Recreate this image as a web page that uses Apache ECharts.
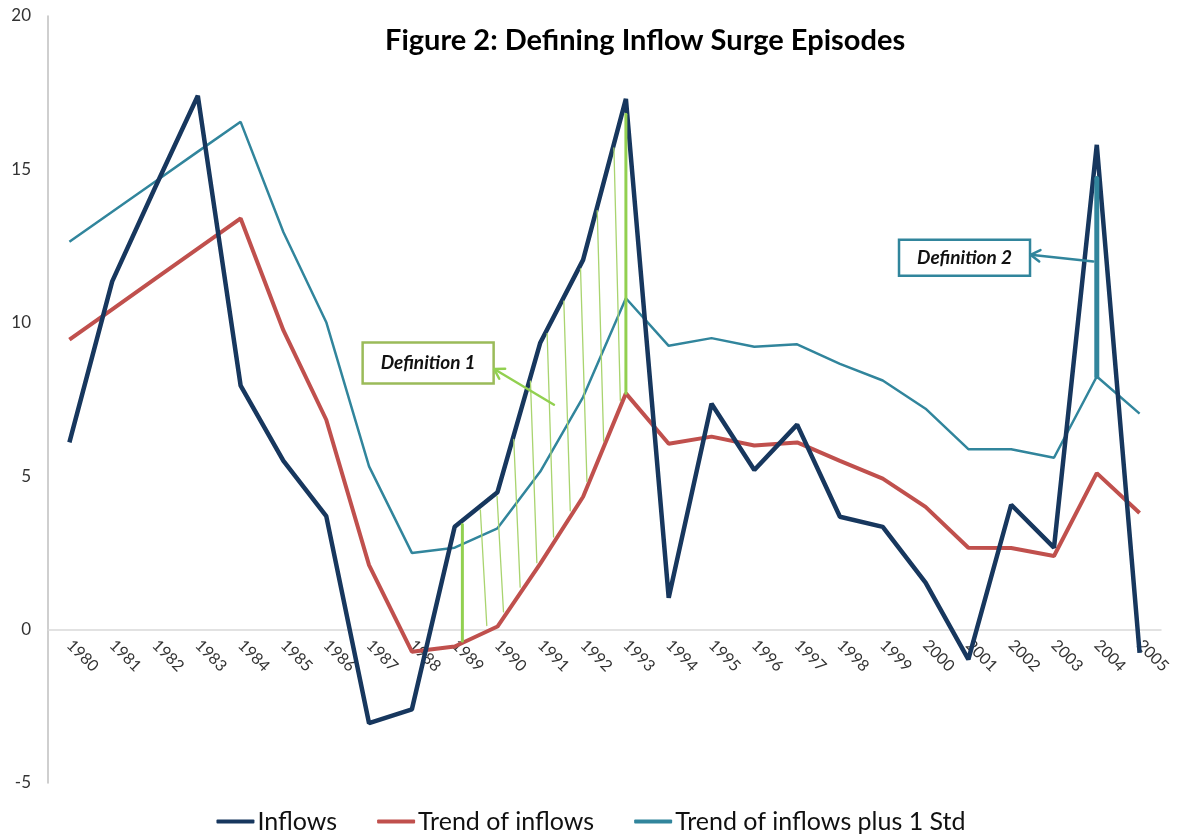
<!DOCTYPE html>
<html>
<head>
<meta charset="utf-8">
<title>Figure 2: Defining Inflow Surge Episodes</title>
<script src="https://cdn.jsdelivr.net/npm/echarts@6/dist/echarts.min.js"></script>
<style>
  html, body { margin: 0; padding: 0; background: #fff; }
  #chart { width: 1182px; height: 839px; }
</style>
</head>
<body>
<div id="chart"></div>
<script>
// data
const years = ['1980', '1981', '1982', '1983', '1984', '1985', '1986', '1987', '1988', '1989',
  '1990', '1991', '1992', '1993', '1994', '1995', '1996', '1997', '1998', '1999',
  '2000', '2001', '2002', '2003', '2004', '2005'];
const inflows = [6.1, 11.35, 14.4, 17.4, 7.95, 5.5, 3.7, -3.05, -2.6, 3.35,
  4.48, 9.35, 12.05, 17.3, 1.04, 7.36, 5.2, 6.68, 3.68, 3.35,
  1.53, -0.97, 4.07, 2.67, 15.8, -0.76];
const trend = [9.45, 10.44, 11.43, 12.42, 13.4, 9.75, 6.84, 2.1, -0.72, -0.55,
  0.1, 2.15, 4.33, 7.7, 6.06, 6.29, 6.0, 6.1, 5.5, 4.92,
  4.0, 2.67, 2.66, 2.4, 5.1, 3.8];
const trendPlusStd = [12.64, 13.62, 14.6, 15.58, 16.55, 12.95, 10.02, 5.32, 2.5, 2.67,
  3.3, 5.15, 7.58, 10.8, 9.25, 9.5, 9.22, 9.3, 8.66, 8.12,
  7.2, 5.88, 5.88, 5.6, 8.25, 7.04];

// y axis range
const yMin = -5;
const yMax = 20;
const yStep = 5;

const FONT = 'Lato, "Open Sans", sans-serif';
const NAVY = '#17375E';
const RED = '#C0504D';
const TEAL = '#31859C';
const GREEN = '#92D050';
const GREEN_BOX = '#9BBB59';

const chart = echarts.init(document.getElementById('chart'));

chart.setOption({
  animation: false,
  backgroundColor: '#fff',
  title: {
    text: 'Figure 2: Defining Inflow Surge Episodes',
    left: 380,
    top: 21,
    textStyle: { fontFamily: FONT, fontWeight: 'bold', fontSize: 29, color: '#000' }
  },
  grid: { left: 48, right: 21, top: 16, bottom: 56 },
  legend: {
    bottom: 0,
    left: 'center',
    icon: 'roundRect',
    itemWidth: 38,
    itemHeight: 4,
    itemGap: 40,
    textStyle: { fontFamily: FONT, fontSize: 25, color: '#111', padding: [0, 0, 0, -2] },
    data: ['Inflows', 'Trend of inflows', 'Trend of inflows plus 1 Std']
  },
  xAxis: {
    type: 'category',
    data: years,
    boundaryGap: true,
    axisLine: { onZero: false, lineStyle: { color: '#D9D9D9', width: 1.5 } },
    axisTick: { show: false },
    axisLabel: {
      rotate: -45,
      interval: 0,
      margin: 13,
      fontFamily: FONT,
      fontSize: 16,
      color: '#333'
    },
    splitLine: { show: false }
  },
  yAxis: {
    type: 'value',
    min: yMin,
    max: yMax,
    interval: yStep,
    axisLine: { show: true, lineStyle: { color: '#BFBFBF', width: 1.5 } },
    axisTick: { show: false },
    axisLabel: { margin: 17, fontFamily: FONT, fontSize: 17, color: '#333' },
    splitLine: { show: false }
  },
  series: [
    {
      name: 'Inflows',
      type: 'line',
      data: inflows,
      symbol: 'none',
      z: 4,
      itemStyle: { color: NAVY },
      lineStyle: { color: NAVY, width: 4.5 }
    },
    {
      name: 'Trend of inflows',
      type: 'line',
      data: trend,
      symbol: 'none',
      z: 3,
      itemStyle: { color: RED },
      lineStyle: { color: RED, width: 4 }
    },
    {
      name: 'Trend of inflows plus 1 Std',
      type: 'line',
      data: trendPlusStd,
      symbol: 'none',
      z: 3,
      itemStyle: { color: TEAL },
      lineStyle: { color: TEAL, width: 2.5 }
    }
  ]
});

// move the category axis (line and labels) up to the zero line
const yZero = chart.convertToPixel({ yAxisIndex: 0 }, 0);
const yBottom = chart.convertToPixel({ yAxisIndex: 0 }, yMin);
chart.setOption({ xAxis: { offset: yZero - yBottom } });

// pixel of a (fractional) category index and a value, through the chart's axes
function pt(idx, val) {
  const a = chart.convertToPixel({ gridIndex: 0 }, [0, val]);
  const b = chart.convertToPixel({ gridIndex: 0 }, [1, val]);
  return [a[0] + (b[0] - a[0]) * idx, a[1]];
}
function at(arr, t) {
  const i = Math.floor(t);
  const j = Math.min(i + 1, arr.length - 1);
  return arr[i] + (arr[j] - arr[i]) * (t - i);
}
function seg(p, q, color, width) {
  return {
    type: 'line', z: 100,
    shape: { x1: p[0], y1: p[1], x2: q[0], y2: q[1] },
    style: { stroke: color, lineWidth: width, lineCap: 'round' }
  };
}
function arrow(from, to, color) {
  const ang = Math.atan2(to[1] - from[1], to[0] - from[0]);
  const len = 11, spread = 0.55;
  const h1 = [to[0] - len * Math.cos(ang - spread), to[1] - len * Math.sin(ang - spread)];
  const h2 = [to[0] - len * Math.cos(ang + spread), to[1] - len * Math.sin(ang + spread)];
  return [
    seg(from, to, color, 2.5),
    { type: 'polyline', z: 100, shape: { points: [h1, to, h2] },
      style: { stroke: color, lineWidth: 2.5, fill: null, lineJoin: 'round', lineCap: 'round' } }
  ];
}
function box(center, w, h, color, label) {
  return [
    { type: 'rect', z: 100,
      shape: { x: center[0] - w / 2, y: center[1] - h / 2, width: w, height: h },
      style: { fill: '#fff', stroke: color, lineWidth: 2.5 } },
    { type: 'text', z: 101, x: center[0], y: center[1],
      style: { text: label, font: 'italic bold 19px ' + FONT, fill: '#111',
        align: 'center', verticalAlign: 'middle' } }
  ];
}

const graphics = [];

// Definition 1: hatching between inflows and trend, 1989 to 1993
const i89 = years.indexOf('1989');
const i93 = years.indexOf('1993');
for (let k = 0; k < 9; k++) {
  const t = i89 + 0.6 + k * 0.39;
  if (t >= i93) break;
  const top = pt(t, at(inflows, t));
  const tb = Math.min(t + 0.15, i93);
  const bot = pt(tb, at(trend, tb));
  graphics.push(seg([top[0], top[1] + 4], [bot[0], bot[1] - 6], '#A9D46F', 1.3));
}
{
  const t = i89 + 0.18;
  const a = pt(t, at(trend, t)), b = pt(t, at(inflows, t));
  graphics.push(seg([a[0], a[1] - 2], [b[0], b[1] + 4], GREEN, 3));
  const c = pt(i93, trend[i93]), d = pt(i93, inflows[i93] - 0.5);
  graphics.push(seg(c, d, GREEN, 3));
}
const b1 = pt(8.38, 8.69);
graphics.push(...box(b1, 131, 41, GREEN_BOX, 'Definition 1'));
graphics.push(...arrow(pt(11.32, 7.33), [b1[0] + 66, b1[1] + 6], GREEN));

// Definition 2: inflows above trend plus 1 std in 2004
const i04 = years.indexOf('2004');
graphics.push(seg(pt(i04, trendPlusStd[i04]), pt(i04, inflows[i04] - 1.1), TEAL, 5));
const b2 = pt(20.91, 12.12);
graphics.push(...box(b2, 131, 36, TEAL, 'Definition 2'));
graphics.push(...arrow(pt(i04 - 0.08, 12.0), [b2[0] + 66, b2[1] - 3], TEAL));

chart.setOption({ graphic: { elements: graphics } });
</script>
</body>
</html>
